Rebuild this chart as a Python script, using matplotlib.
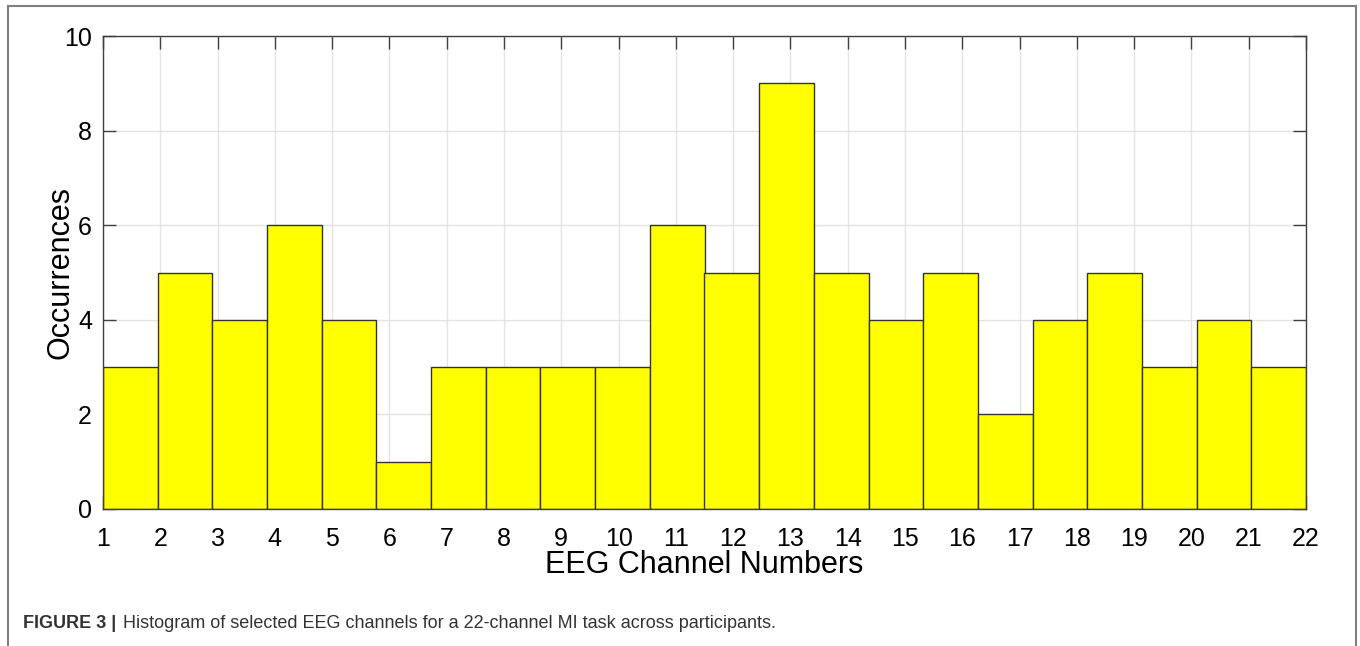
import matplotlib
matplotlib.use('Agg')
import matplotlib.pyplot as plt
from matplotlib.lines import Line2D
import numpy as np

plt.rcParams.update({
    'font.family': ['Liberation Sans', 'DejaVu Sans'],
})

# Data: occurrences per bin, 22 bins over channels 1..22
channel_ticks = list(range(1, 23))
occurrences = [3, 5, 4, 6, 4, 1, 3, 3, 3, 3, 6, 5, 9, 5, 4, 5, 2, 4, 5, 3, 4, 3]
y_ticks = [0, 2, 4, 6, 8, 10]
caption_bold = 'FIGURE 3 |'
caption_text = 'Histogram of selected EEG channels for a 22-channel MI task across participants.'

edges = np.linspace(channel_ticks[0], channel_ticks[-1], len(occurrences) + 1)

fig = plt.figure(figsize=(13.6, 6.46), dpi=100)
ax = fig.add_axes([103 / 1360, 1 - 509 / 646, (1306 - 103) / 1360, (509 - 36) / 646])

ax.bar(edges[:-1], occurrences, width=np.diff(edges), align='edge',
       color='#FFFF00', edgecolor='#333333', linewidth=1.0, zorder=2)

ax.set_xlim(edges[0], edges[-1])
ax.set_ylim(0, 10)
ax.set_xticks(channel_ticks)
ax.set_yticks(y_ticks)
ax.grid(True, color='#e3e3e3', linewidth=1.0, zorder=0)
ax.set_axisbelow(True)

ax.tick_params(direction='in', length=9.5, width=1.0, color='#404040',
               labelsize=18, top=True, right=True)
ax.tick_params(axis='x', pad=13)
ax.tick_params(axis='y', pad=8)
for s in ax.spines.values():
    s.set_color('#404040')
    s.set_linewidth(1.0)
    s.set_zorder(3)

ax.set_xlabel('EEG Channel Numbers', fontsize=22, labelpad=-1)
ax.set_ylabel('Occurrences', fontsize=22, labelpad=-8)

# outer frame (open at the bottom)
frame_kw = dict(color='#808080', linewidth=1.5, transform=fig.transFigure)
fig.add_artist(Line2D([8 / 1360, 8 / 1360], [0, 1 - 6 / 646], **frame_kw))
fig.add_artist(Line2D([8 / 1360, 1356 / 1360], [1 - 6 / 646, 1 - 6 / 646], **frame_kw))
fig.add_artist(Line2D([1356 / 1360, 1356 / 1360], [0, 1 - 6 / 646], **frame_kw))

fig.text(23 / 1360, 1 - 624 / 646, caption_bold, fontsize=13, fontweight='bold',
         color='#333333', va='center', ha='left')
fig.text(123 / 1360, 1 - 624 / 646, caption_text, fontsize=13,
         color='#333333', va='center', ha='left')

fig.savefig('out.png', dpi=100)
